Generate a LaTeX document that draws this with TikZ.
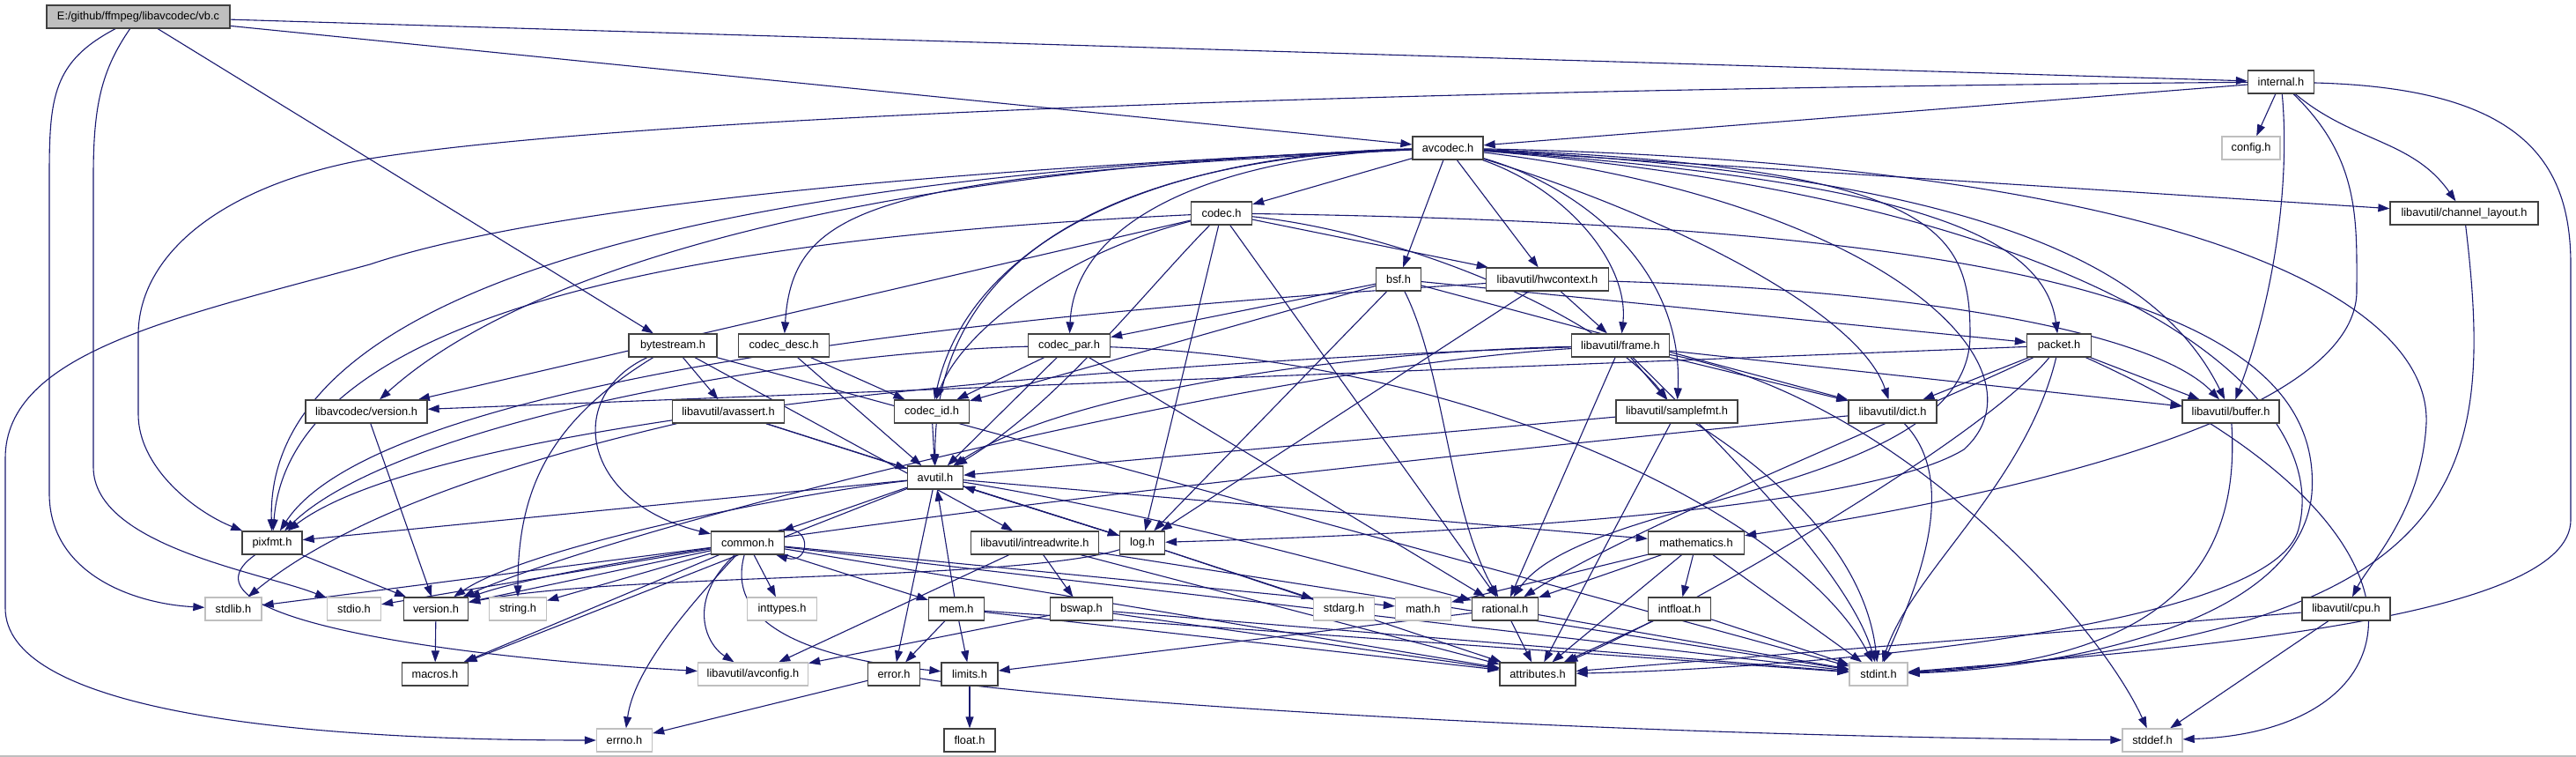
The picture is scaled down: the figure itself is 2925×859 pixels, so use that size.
\documentclass[tikz,border=0pt]{standalone}
\usepackage{fontspec}
\setmainfont{Liberation Sans}
\usetikzlibrary{arrows.meta}
\definecolor{edgec}{HTML}{191970}
\definecolor{grayb}{HTML}{BFBFBF}
\definecolor{boxb}{HTML}{404040}
\pgfdeclarelayer{bg}
\pgfsetlayers{bg,main}
\tikzset{
 box/.style={draw=boxb, fill=white, line width=1.3pt, minimum height=26pt, inner sep=0pt, font=\fontsize{12.8}{15}\selectfont},
 ext/.style={box, draw=grayb},
 e/.style={draw=edgec, line width=1.1pt, -{Triangle[length=13pt,width=9pt]}},
}
\begin{document}
\begin{tikzpicture}[x=1pt,y=-1pt]
\useasboundingbox (0,0) rectangle (2925,859);
\begin{pgfonlayer}{bg}
\fill[white] (0,0) rectangle (2925,859);
\draw[grayb, line width=1.5pt] (0,858) -- (2925,858);
\end{pgfonlayer}
% nodes
\node[box, fill=grayb, minimum width=208pt] (vb) at (157,19) {E:/github/ffmpeg/libavcodec/vb.c};
\node[box, minimum width=75pt] (internal) at (2590,93) {internal.h};
\node[ext, minimum width=66pt] (config) at (2556,168) {config.h};
\node[box, minimum width=80pt] (avcodec) at (1644,168) {avcodec.h};
\node[box, minimum width=168pt] (chlayout) at (2798,242) {libavutil/channel\_layout.h};
\node[box, minimum width=69pt] (codec) at (1387,242) {codec.h};
\node[box, minimum width=51pt] (bsf) at (1588,317) {bsf.h};
\node[box, minimum width=139pt] (hwctx) at (1757,317) {libavutil/hwcontext.h};
\node[box, minimum width=100pt] (bytestream) at (764,392) {bytestream.h};
\node[box, minimum width=103pt] (codecdesc) at (890,392) {codec\_desc.h};
\node[box, minimum width=93pt] (codecpar) at (1214,392) {codec\_par.h};
\node[box, minimum width=111pt] (frame) at (1840,392) {libavutil/frame.h};
\node[box, minimum width=73pt] (packet) at (2338,392) {packet.h};
\node[box, minimum width=138pt] (lcversion) at (416,467) {libavcodec/version.h};
\node[box, minimum width=127pt] (avassert) at (827,467) {libavutil/avassert.h};
\node[box, minimum width=85pt] (codecid) at (1058,467) {codec\_id.h};
\node[box, minimum width=138pt] (samplefmt) at (1904,467) {libavutil/samplefmt.h};
\node[box, minimum width=100pt] (dict) at (2149,467) {libavutil/dict.h};
\node[box, minimum width=110pt] (buffer) at (2533,467) {libavutil/buffer.h};
\node[box, minimum width=63pt] (avutil) at (1062,542) {avutil.h};
\node[box, minimum width=68pt] (pixfmt) at (309,616) {pixfmt.h};
\node[box, minimum width=83pt] (common) at (849,616) {common.h};
\node[box, minimum width=145pt] (intreadwrite) at (1175,616) {libavutil/intreadwrite.h};
\node[box, minimum width=51pt] (log) at (1297,616) {log.h};
\node[box, minimum width=109pt] (mathematics) at (1926,616) {mathematics.h};
\node[ext, minimum width=64pt] (stdlib) at (265,691) {stdlib.h};
\node[ext, minimum width=61pt] (stdio) at (402,691) {stdio.h};
\node[box, minimum width=73pt] (version) at (495,691) {version.h};
\node[ext, minimum width=65pt] (string) at (588,691) {string.h};
\node[ext, minimum width=79pt] (inttypes) at (888,691) {inttypes.h};
\node[box, minimum width=63pt] (mem) at (1086,691) {mem.h};
\node[box, minimum width=71pt] (bswap) at (1228,691) {bswap.h};
\node[ext, minimum width=69pt] (stdarg) at (1526,691) {stdarg.h};
\node[ext, minimum width=63pt] (math) at (1616,691) {math.h};
\node[box, minimum width=75pt] (rational) at (1709,691) {rational.h};
\node[box, minimum width=71pt] (intfloat) at (1907,691) {intfloat.h};
\node[box, minimum width=100pt] (cpu) at (2664,691) {libavutil/cpu.h};
\node[box, minimum width=75pt] (macros) at (494,765) {macros.h};
\node[ext, minimum width=125pt] (avconfig) at (855,765) {libavutil/avconfig.h};
\node[box, minimum width=59pt] (error) at (1015,765) {error.h};
\node[box, minimum width=64pt] (limits) at (1101,765) {limits.h};
\node[box, minimum width=86pt] (attributes) at (1746,765) {attributes.h};
\node[ext, minimum width=66pt] (stdint) at (2133,765) {stdint.h};
\node[ext, minimum width=63pt] (errno) at (709,840) {errno.h};
\node[box, minimum width=58pt] (float) at (1101,840) {float.h};
\node[ext, minimum width=68pt] (stddef) at (2444,840) {stddef.h};
\begin{pgfonlayer}{bg}
% vb.c
\draw[e] (vb) -- (internal);
\draw[e] (vb) -- (avcodec);
\draw[e] (vb) -- (bytestream);
\draw[e] (vb) .. controls (60,70) and (56,110) .. (56,200) -- (56,560) .. controls (56,650) and (150,685) .. (stdlib);
\draw[e] (vb) .. controls (115,80) and (106,120) .. (106,200) -- (106,530) .. controls (106,620) and (300,650) .. (stdio);
% internal
\draw[e] (internal) -- (avcodec);
\draw[e] (internal) -- (config);
\draw[e] (internal) to[out=-40,in=125] (chlayout);
\draw[e] (internal) .. controls (2600,200) and (2585,330) .. (buffer);
\draw[e] (internal) .. controls (2680,180) and (2676,250) .. (2676,330) .. controls (2676,470) and (2300,560) .. (mathematics);
\draw[e] (internal) .. controls (2860,100) and (2919,180) .. (2919,300) -- (2919,590) .. controls (2919,700) and (2500,735) .. (stdint);
\draw[e] (internal) .. controls (1500,102) and (700,135) .. (420,180) .. controls (250,210) and (157,290) .. (157,380) -- (157,470) .. controls (157,530) and (220,580) .. (pixfmt);
% avcodec
\draw[e] (avcodec) -- (codec);
\draw[e] (avcodec) -- (bsf);
\draw[e] (avcodec) -- (hwctx);
\draw[e] (avcodec) .. controls (1780,215) and (1850,300) .. (frame);
\draw[e] (avcodec) .. controls (2150,205) and (2320,260) .. (packet);
\draw[e] (avcodec) -- (chlayout);
\draw[e] (avcodec) .. controls (2250,200) and (2450,300) .. (buffer);
\draw[e] (avcodec) .. controls (2450,185) and (2760,330) .. (2755,480) .. controls (2750,580) and (2690,640) .. (cpu);
\draw[e] (avcodec) .. controls (1880,240) and (2110,350) .. (dict);
\draw[e] (avcodec) .. controls (1790,210) and (1912,300) .. (samplefmt);
\draw[e] (avcodec) .. controls (2200,190) and (2237,260) .. (2237,380) .. controls (2237,560) and (1800,560) .. (rational);
\draw[e] (avcodec) .. controls (2150,230) and (2330,420) .. (2230,510) .. controls (2100,590) and (1500,610) .. (log);
\draw[e] (avcodec) .. controls (2400,230) and (2650,450) .. (2610,600) .. controls (2580,720) and (2000,760) .. (attributes);
\draw[e] (avcodec) .. controls (1250,180) and (1060,300) .. (avutil);
\draw[e] (avcodec) .. controls (1300,175) and (1100,280) .. (codecid);
\draw[e] (avcodec) .. controls (1000,200) and (900,230) .. (codecdesc);
\draw[e] (avcodec) .. controls (1380,178) and (1220,250) .. (codecpar);
\draw[e] (avcodec) .. controls (1000,190) and (600,300) .. (lcversion);
\draw[e] (avcodec) .. controls (900,195) and (300,300) .. (pixfmt);
\draw[e] (avcodec) .. controls (1000,195) and (600,240) .. (420,300) .. controls (200,360) and (6,400) .. (6,520) -- (6,690) .. controls (6,800) and (300,840) .. (errno);
% codec
\draw[e] (codec) .. controls (2300,255) and (2640,350) .. (2625,560) .. controls (2610,720) and (2300,760) .. (stdint);
\draw[e] (codec) -- (hwctx);
\draw[e] (codec) .. controls (1600,265) and (1820,360) .. (samplefmt);
\draw[e] (codec) .. controls (1300,330) and (1200,460) .. (avutil);
\draw[e] (codec) .. controls (1200,290) and (1090,380) .. (codecid);
\draw[e] (codec) -- (log);
\draw[e] (codec) -- (rational);
\draw[e] (codec) .. controls (800,270) and (330,350) .. (pixfmt);
\draw[e] (codec) -- (lcversion);
% bsf
\draw[e] (bsf) -- (codecpar);
\draw[e] (bsf) -- (codecid);
\draw[e] (bsf) -- (packet);
\draw[e] (bsf) -- (dict);
\draw[e] (bsf) -- (log);
\draw[e] (bsf) .. controls (1640,420) and (1645,580) .. (rational);
% hwcontext
\draw[e] (hwctx) -- (frame);
\draw[e] (hwctx) .. controls (2200,330) and (2450,380) .. (buffer);
\draw[e] (hwctx) -- (log);
\draw[e] (hwctx) .. controls (1400,340) and (450,400) .. (pixfmt);
% bytestream
\draw[e] (bytestream) -- (avassert);
\draw[e] (bytestream) .. controls (640,450) and (660,570) .. (common);
\draw[e] (bytestream) .. controls (620,480) and (588,560) .. (string);
\draw[e] (bytestream) -- (intreadwrite);
\draw[e] (bytestream) -- (stdint);
% codec_desc
\draw[e] (codecdesc) -- (avutil);
\draw[e] (codecdesc) -- (codecid);
% codec_par
\draw[e] (codecpar) -- (codecid);
\draw[e] (codecpar) -- (avutil);
\draw[e] (codecpar) -- (rational);
\draw[e] (codecpar) .. controls (1700,410) and (2050,600) .. (stdint);
\draw[e] (codecpar) .. controls (900,400) and (450,480) .. (pixfmt);
% frame
\draw[e] (frame) -- (samplefmt);
\draw[e] (frame) -- (dict);
\draw[e] (frame) -- (buffer);
\draw[e] (frame) -- (rational);
\draw[e] (frame) .. controls (1500,400) and (1200,450) .. (avutil);
\draw[e] (frame) .. controls (1300,410) and (500,470) .. (pixfmt);
\draw[e] (frame) .. controls (1400,420) and (700,600) .. (version);
\draw[e] (frame) .. controls (1950,500) and (2100,650) .. (stdint);
\draw[e] (frame) .. controls (2150,450) and (2380,700) .. (stddef);
% packet
\draw[e] (packet) -- (buffer);
\draw[e] (packet) -- (dict);
\draw[e] (packet) -- (lcversion);
\draw[e] (packet) .. controls (2800,600) and (2750,830) .. (stddef);
\draw[e] (packet) .. controls (2300,550) and (2170,650) .. (stdint);
\draw[e] (packet) .. controls (2250,500) and (1900,700) .. (attributes);
\draw[e] (packet) .. controls (2150,480) and (1850,600) .. (rational);
% libavcodec/version
\draw[e] (lcversion) -- (version);
% avassert
\draw[e] (avassert) .. controls (600,520) and (400,580) .. (stdlib);
\draw[e] (avassert) -- (avutil);
\draw[e] (avassert) -- (log);
% codec_id
\draw[e] (codecid) -- (avutil);
% avutil
\draw[e] (avutil) -- (common);
\draw[e] (avutil) -- (error);
\draw[e] (avutil) .. controls (1300,580) and (1550,650) .. (rational);
\draw[e] (avutil) .. controls (900,560) and (600,620) .. (version);
\draw[e] (avutil) -- (macros);
\draw[e] (avutil) -- (mathematics);
\draw[e] (avutil) -- (log);
\draw[e] (avutil) -- (pixfmt);
% common
\draw[e] (common) .. controls (780,690) and (720,760) .. (errno);
\draw[e] (common) -- (inttypes);
\draw[e] (common) .. controls (820,720) and (950,750) .. (limits);
\draw[e] (common) .. controls (780,680) and (800,730) .. (avconfig);
\draw[e] (common) -- (math);
\draw[e] (common) -- (stdint);
\draw[e] (common) -- (attributes);
\draw[e] (common) -- (stdio);
\draw[e] (common) -- (stdlib);
\draw[e] (common) -- (string);
\draw[e] (common) -- (macros);
\draw[e] (common) -- (version);
\draw[e] (common) -- (mem);
\draw[e] ([xshift=-8pt]common.north east) .. controls +(40,-12) and +(40,12) .. ([xshift=-10pt]common.south east);
% mem
\draw[e] (mem) -- (limits);
\draw[e] (mem) -- (error);
\draw[e] (mem) -- (avutil);
\draw[e] (mem) -- (stdint);
\draw[e] (mem) -- (attributes);
% intreadwrite
\draw[e] (intreadwrite) -- (bswap);
\draw[e] (intreadwrite) -- (avconfig);
\draw[e] (intreadwrite) -- (stdint);
\draw[e] (intreadwrite) -- (attributes);
% log
\draw[e] (log) -- (stdarg);
\draw[e] (log) -- (avutil);
\draw[e] (log) -- (attributes);
\draw[e] (log) .. controls (1150,660) and (700,650) .. (version);
% mathematics
\draw[e] (mathematics) -- (rational);
\draw[e] (mathematics) -- (math);
\draw[e] (mathematics) -- (intfloat);
\draw[e] (mathematics) -- (attributes);
\draw[e] (mathematics) -- (stdint);
% rational
\draw[e] (rational) -- (attributes);
\draw[e] (rational) -- (stdint);
\draw[e] (rational) -- (limits);
% intfloat
\draw[e] (intfloat) -- (stdint);
\draw[e] (intfloat) -- (attributes);
% samplefmt
\draw[e] (samplefmt) -- (attributes);
\draw[e] (samplefmt) .. controls (2050,560) and (2120,650) .. (stdint);
\draw[e] (samplefmt) -- (avutil);
% dict
\draw[e] (dict) .. controls (2230,550) and (2170,680) .. (stdint);
\draw[e] (dict) .. controls (1500,530) and (700,620) .. (version);
% buffer
\draw[e] (buffer) .. controls (2545,650) and (2450,750) .. (stdint);
% channel_layout
\draw[e] (chlayout) .. controls (2835,550) and (2800,720) .. (stdint);
% cpu
\draw[e] (cpu) -- (stddef);
\draw[e] (cpu) -- (attributes);
% error
\draw[e] (error) -- (errno);
\draw[e] (error) .. controls (1200,795) and (1800,835) .. (stddef);
% limits
\draw[e] (limits) -- (float);
% avutil/version
\draw[e] (version) -- (macros);
% pixfmt
\draw[e] (pixfmt) -- (version);
\draw[e] (pixfmt) .. controls (190,700) and (500,745) .. (avconfig);
% bswap
\draw[e] (bswap) -- (avconfig);
\draw[e] (bswap) -- (stdint);
\draw[e] (bswap) -- (attributes);
\end{pgfonlayer}
\end{tikzpicture}
\end{document}
